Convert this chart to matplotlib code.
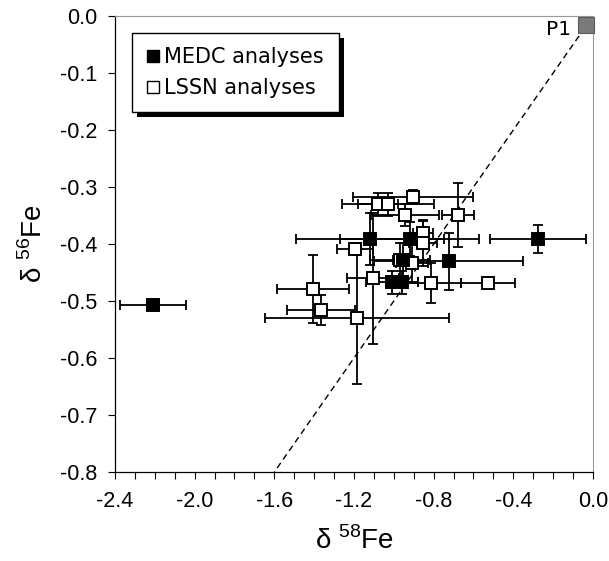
import matplotlib
matplotlib.use("Agg")
import matplotlib.pyplot as plt
from matplotlib.patches import Rectangle
from matplotlib.lines import Line2D
from matplotlib.ticker import MultipleLocator

plt.rcParams["font.family"] = ["Liberation Sans", "DejaVu Sans"]
plt.rcParams["mathtext.fontset"] = "custom"
plt.rcParams["mathtext.rm"] = "Liberation Sans"

# MEDC analyses (filled squares)
medc_x = [-2.21, -1.12, -0.92, -0.275, -0.955, -0.725, -1.01, -0.96]
medc_y = [-0.507, -0.391, -0.391, -0.391, -0.428, -0.430, -0.467, -0.467]
medc_xerr = [0.165, 0.37, 0.35, 0.24, 0.05, 0.375, 0.13, 0.08]
medc_yerr = [0.005, 0.045, 0.03, 0.025, 0.03, 0.05, 0.02, 0.02]

# LSSN analyses (open squares)
lssn_x = [-1.08, -1.03, -0.905, -0.945, -0.678, -0.855, -0.855, -0.97,
          -0.91, -1.195, -1.105, -1.406, -1.366, -1.185, -0.815, -0.528]
lssn_y = [-0.330, -0.330, -0.318, -0.349, -0.349, -0.380, -0.398, -0.428,
          -0.433, -0.409, -0.460, -0.479, -0.516, -0.530, -0.468, -0.468]
lssn_xerr = [0.10, 0.23, 0.30, 0.17, 0.08, 0.05, 0.07, 0.15,
             0.08, 0.09, 0.13, 0.18, 0.17, 0.46, 0.15, 0.135]
lssn_yerr = [0.02, 0.02, 0.012, 0.02, 0.056, 0.02, 0.04, 0.03,
             0.035, 0.01, 0.115, 0.06, 0.026, 0.115, 0.035, 0.006]

# end member P1 and mass-fractionation line
p1_x, p1_y = -0.035, -0.015
line_x = [-0.04, -1.6]
line_y = [-0.02, -0.8]

fig = plt.figure(figsize=(6.09, 5.61), dpi=100)
ax = fig.add_axes([115 / 609, 1 - 472 / 561, 478 / 609, 456 / 561])

ax.plot(line_x, line_y, color="black", linestyle=(0, (4.5, 3)), linewidth=1.0, zorder=2)

eb_kw = dict(fmt="none", ecolor="black", elinewidth=1.3, capsize=3.8, capthick=1.3, zorder=3)
ax.errorbar(lssn_x, lssn_y, xerr=lssn_xerr, yerr=lssn_yerr, **eb_kw)
ax.errorbar(medc_x, medc_y, xerr=medc_xerr, yerr=medc_yerr, **eb_kw)
ax.plot(lssn_x, lssn_y, "s", ms=8.6, mfc="white", mec="black", mew=1.4, linestyle="none", zorder=4)
ax.plot(medc_x, medc_y, "s", ms=8.6, mfc="black", mec="black", mew=1.4, linestyle="none", zorder=4)

ax.plot([p1_x], [p1_y], "s", ms=11, mfc="#7a7a7a", mec="#5a5a5a", mew=0.8,
        clip_on=False, zorder=5)
ax.text(-0.11, -0.024, "P1", ha="right", va="center", fontsize=14.5, family="DejaVu Sans")

ax.set_xlim(-2.4, 0.0)
ax.set_ylim(-0.8, 0.0)
ax.xaxis.set_major_locator(MultipleLocator(0.4))
ax.xaxis.set_minor_locator(MultipleLocator(0.1))
ax.yaxis.set_major_locator(MultipleLocator(0.1))
ax.xaxis.set_major_formatter(plt.FuncFormatter(lambda v, p: f"{v:.1f}"))
ax.yaxis.set_major_formatter(plt.FuncFormatter(lambda v, p: f"{v:.1f}"))
ax.tick_params(axis="both", which="both", direction="out", length=5, width=0.8,
               labelsize=15.5)
ax.tick_params(axis="x", pad=9)
ax.tick_params(axis="y", pad=8)

for s in ("left", "bottom"):
    ax.spines[s].set_color("black")
    ax.spines[s].set_linewidth(0.9)
for s in ("top", "right"):
    ax.spines[s].set_color("#999999")
    ax.spines[s].set_linewidth(0.8)

ax.set_xlabel(r"δ $^{\mathrm{58}}$Fe", fontsize=20, labelpad=10)
ax.set_ylabel(r"δ $^{\mathrm{56}}$Fe", fontsize=20, labelpad=8)

handles = [
    Line2D([], [], marker="s", ms=8, mfc="black", mec="black", linestyle="none"),
    Line2D([], [], marker="s", ms=8, mfc="white", mec="black", mew=1.0, linestyle="none"),
]
leg = ax.legend(handles, ["MEDC analyses", "LSSN analyses"], loc="upper left",
                bbox_to_anchor=(0.036, 0.963), borderaxespad=0, fancybox=False,
                framealpha=1, edgecolor="black", handlelength=0.6,
                handletextpad=0.25, borderpad=0.7, labelspacing=0.5,
                prop={"family": "DejaVu Sans", "size": 15})
leg.get_frame().set_linewidth(1.0)
leg.set_zorder(10)

# drop shadow behind the legend box
fig.canvas.draw()
bb = leg.get_window_extent()
shadow = Rectangle((bb.x0 + 5, bb.y0 - 5), bb.width, bb.height, transform=None,
                   facecolor="black", edgecolor="none", zorder=9)
ax.add_artist(shadow)

fig.savefig("out.png", dpi=100)
